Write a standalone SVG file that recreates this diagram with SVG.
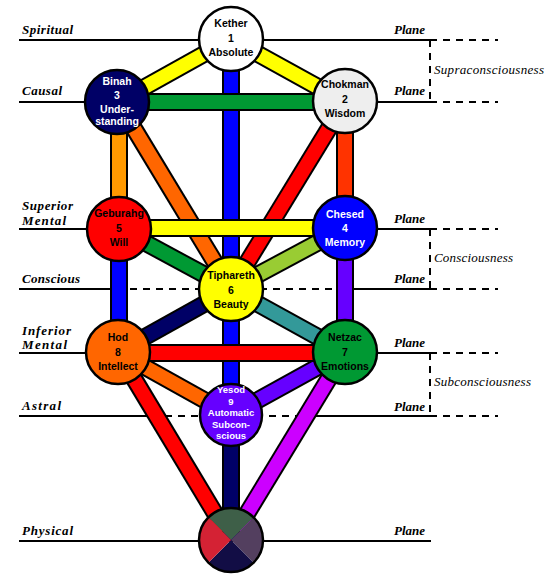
<svg xmlns="http://www.w3.org/2000/svg" width="555" height="583" viewBox="0 0 555 583">
<style>
.pl{stroke:#000;stroke-width:2;fill:none}
.ds{stroke:#000;stroke-width:2;fill:none;stroke-dasharray:7 6}
.lbl{font-family:"Liberation Serif",serif;font-style:italic;font-weight:bold;font-size:13px;fill:#000}
.pln{font-family:"Liberation Serif",serif;font-style:italic;font-weight:bold;font-size:13px;fill:#000;text-anchor:end}
.con{font-family:"Liberation Serif",serif;font-style:italic;font-size:13px;fill:#000}
.po{stroke:#000;stroke-width:18;stroke-linecap:butt}
.pi{stroke-width:14;stroke-linecap:butt}
.nc{stroke:#000;stroke-width:2.5}
.nt{font-family:"Liberation Sans",Arial,sans-serif;font-weight:bold;font-size:10.5px;text-anchor:middle;fill:#000}
.ys{font-size:9.5px}
.w{fill:#fff}
</style>
<rect width="555" height="583" fill="#fff"/>
<g id="planes">
<line class="pl" x1="19" y1="40" x2="430" y2="40"/>
<line class="ds" x1="430" y1="40" x2="498" y2="40"/>
<line class="pl" x1="19" y1="102" x2="430" y2="102"/>
<line class="ds" x1="430" y1="102" x2="498" y2="102"/>
<line class="ds" x1="430" y1="40" x2="430" y2="102"/>
<line class="pl" x1="19" y1="229" x2="430" y2="229"/>
<line class="ds" x1="430" y1="229" x2="498" y2="229"/>
<line class="pl" x1="19" y1="289" x2="119" y2="289"/>
<line class="ds" x1="130" y1="289" x2="345" y2="289"/>
<line class="pl" x1="345" y1="289" x2="430" y2="289"/>
<line class="ds" x1="430" y1="289" x2="498" y2="289"/>
<line class="ds" x1="430" y1="229" x2="430" y2="289"/>
<line class="pl" x1="19" y1="353" x2="430" y2="353"/>
<line class="ds" x1="430" y1="353" x2="498" y2="353"/>
<line class="pl" x1="19" y1="416" x2="155" y2="416"/>
<line class="ds" x1="165" y1="416" x2="307" y2="416"/>
<line class="pl" x1="307" y1="416" x2="430" y2="416"/>
<line class="ds" x1="430" y1="416" x2="498" y2="416"/>
<line class="ds" x1="430" y1="353" x2="430" y2="416"/>
<line class="pl" x1="19" y1="541" x2="431" y2="541"/>
</g>
<g id="labels">
<text class="lbl" x="22" y="34" textLength="51">Spiritual</text>
<text class="lbl" x="22" y="95" textLength="40">Causal</text>
<text class="lbl" x="22" y="210" textLength="51">Superior</text>
<text class="lbl" x="22" y="225" textLength="44">Mental</text>
<text class="lbl" x="22" y="283" textLength="58">Conscious</text>
<text class="lbl" x="22" y="335" textLength="49">Inferior</text>
<text class="lbl" x="22" y="349" textLength="45">Mental</text>
<text class="lbl" x="22" y="410" textLength="39">Astral</text>
<text class="lbl" x="22" y="535" textLength="51">Physical</text>
<text class="pln" x="425" y="34">Plane</text>
<text class="pln" x="425" y="95">Plane</text>
<text class="pln" x="425" y="223">Plane</text>
<text class="pln" x="425" y="283">Plane</text>
<text class="pln" x="425" y="347">Plane</text>
<text class="pln" x="425" y="411">Plane</text>
<text class="pln" x="425" y="535">Plane</text>
<text class="con" x="434" y="74" textLength="110">Supraconsciousness</text>
<text class="con" x="434" y="262" textLength="79">Consciousness</text>
<text class="con" x="434" y="386" textLength="97">Subconsciousness</text>
</g>
<g id="connectors">
<g>
<line class="po" x1="231" y1="39" x2="118" y2="102"/><line class="pi" stroke="#ffff00" x1="231" y1="39" x2="118" y2="102"/>
<line class="po" x1="231" y1="39" x2="345" y2="102"/><line class="pi" stroke="#ffff00" x1="231" y1="39" x2="345" y2="102"/>
<line class="po" x1="118" y1="102" x2="231" y2="289"/><line class="pi" stroke="#ff6600" x1="118" y1="102" x2="231" y2="289"/>
<line class="po" x1="345" y1="102" x2="231" y2="289"/><line class="pi" stroke="#ff0000" x1="345" y1="102" x2="231" y2="289"/>
<line class="po" x1="118" y1="228" x2="231" y2="289"/><line class="pi" stroke="#009933" x1="118" y1="228" x2="231" y2="289"/>
<line class="po" x1="345" y1="228" x2="231" y2="289"/><line class="pi" stroke="#99cc33" x1="345" y1="228" x2="231" y2="289"/>
<line class="po" x1="231" y1="289" x2="118" y2="352"/><line class="pi" stroke="#000066" x1="231" y1="289" x2="118" y2="352"/>
<line class="po" x1="231" y1="289" x2="345" y2="352"/><line class="pi" stroke="#339999" x1="231" y1="289" x2="345" y2="352"/>
<line class="po" x1="118" y1="352" x2="231" y2="415"/><line class="pi" stroke="#ff6600" x1="118" y1="352" x2="231" y2="415"/>
<line class="po" x1="345" y1="352" x2="231" y2="415"/><line class="pi" stroke="#6600ff" x1="345" y1="352" x2="231" y2="415"/>
<line class="po" x1="118" y1="352" x2="231" y2="540"/><line class="pi" stroke="#ff0000" x1="118" y1="352" x2="231" y2="540"/>
<line class="po" x1="345" y1="352" x2="231" y2="540"/><line class="pi" stroke="#cc00ff" x1="345" y1="352" x2="231" y2="540"/>
</g>
<g>
<line class="po" x1="231" y1="39" x2="231" y2="415"/><line class="pi" stroke="#0000ff" x1="231" y1="39" x2="231" y2="415"/>
<line class="po" x1="231" y1="415" x2="231" y2="540"/><line class="pi" stroke="#000066" x1="231" y1="415" x2="231" y2="540"/>
<line class="po" x1="119" y1="102" x2="119" y2="228"/><line class="pi" stroke="#ff9900" x1="119" y1="102" x2="119" y2="228"/>
<line class="po" x1="119" y1="228" x2="119" y2="352"/><line class="pi" stroke="#0000ff" x1="119" y1="228" x2="119" y2="352"/>
<line class="po" x1="345" y1="102" x2="345" y2="228"/><line class="pi" stroke="#ff3300" x1="345" y1="102" x2="345" y2="228"/>
<line class="po" x1="345" y1="228" x2="345" y2="352"/><line class="pi" stroke="#6600ff" x1="345" y1="228" x2="345" y2="352"/>
</g>
<g>
<line class="po" x1="118" y1="102" x2="345" y2="102"/><line class="pi" stroke="#009933" x1="118" y1="102" x2="345" y2="102"/>
<line class="po" x1="118" y1="228" x2="345" y2="228"/><line class="pi" stroke="#ffff00" x1="118" y1="228" x2="345" y2="228"/>
<line class="po" x1="118" y1="353" x2="345" y2="353"/><line class="pi" stroke="#ff0000" x1="118" y1="353" x2="345" y2="353"/>
</g>
</g>
<g id="kether">
<circle class="nc" cx="231" cy="39" r="32" fill="#ffffff"/>
<text class="nt" x="231" y="27">Kether</text>
<text class="nt" x="231" y="42">1</text>
<text class="nt" x="231" y="56">Absolute</text>
</g>
<g id="binah">
<circle class="nc" cx="117" cy="102" r="32" fill="#000066"/>
<text class="nt w" x="117" y="85">Binah</text>
<text class="nt w" x="117" y="99">3</text>
<text class="nt w" x="117" y="113">Under-</text>
<text class="nt w" x="117" y="125">standing</text>
</g>
<g id="chokman">
<circle class="nc" cx="345" cy="101" r="32" fill="#eeeeee"/>
<text class="nt" x="345" y="88">Chokman</text>
<text class="nt" x="345" y="103">2</text>
<text class="nt" x="345" y="117">Wisdom</text>
</g>
<g id="geburah">
<circle class="nc" cx="119" cy="229" r="32" fill="#ff0000"/>
<text class="nt" x="119" y="217">Geburahg</text>
<text class="nt" x="119" y="232">5</text>
<text class="nt" x="119" y="246">Will</text>
</g>
<g id="chesed">
<circle class="nc" cx="345" cy="228" r="32" fill="#0000ff"/>
<text class="nt w" x="345" y="218">Chesed</text>
<text class="nt w" x="345" y="232">4</text>
<text class="nt w" x="345" y="246">Memory</text>
</g>
<g id="tiphareth">
<circle class="nc" cx="231" cy="289" r="32" fill="#ffff00"/>
<text class="nt" x="231" y="279">Tiphareth</text>
<text class="nt" x="231" y="294">6</text>
<text class="nt" x="231" y="308">Beauty</text>
</g>
<g id="hod">
<circle class="nc" cx="118" cy="352" r="32" fill="#ff6600"/>
<text class="nt" x="118" y="341">Hod</text>
<text class="nt" x="118" y="356">8</text>
<text class="nt" x="118" y="370">Intellect</text>
</g>
<g id="netzac">
<circle class="nc" cx="345" cy="352" r="32" fill="#009933"/>
<text class="nt" x="345" y="341">Netzac</text>
<text class="nt" x="345" y="356">7</text>
<text class="nt" x="345" y="370">Emotions</text>
</g>
<g id="yesod">
<circle class="nc" cx="231" cy="415" r="31" fill="#6600ff"/>
<text class="nt w ys" x="231" y="393">Yesod</text>
<text class="nt w ys" x="231" y="404.5">9</text>
<text class="nt w ys" x="231" y="416">Automatic</text>
<text class="nt w ys" x="231" y="427.5">Subcon-</text>
<text class="nt w ys" x="231" y="439">scious</text>
</g>
<g id="malkuth">
<path d="M231,540 L208.37,517.37 A32,32 0 0 1 253.63,517.37 Z" fill="#3e5f48"/>
<path d="M231,540 L253.63,517.37 A32,32 0 0 1 253.63,562.63 Z" fill="#533f5f"/>
<path d="M231,540 L253.63,562.63 A32,32 0 0 1 208.37,562.63 Z" fill="#120d45"/>
<path d="M231,540 L208.37,562.63 A32,32 0 0 1 208.37,517.37 Z" fill="#d42234"/>
<circle cx="231" cy="540" r="32" fill="none" stroke="#000" stroke-width="2.5"/>
</g>
</svg>
